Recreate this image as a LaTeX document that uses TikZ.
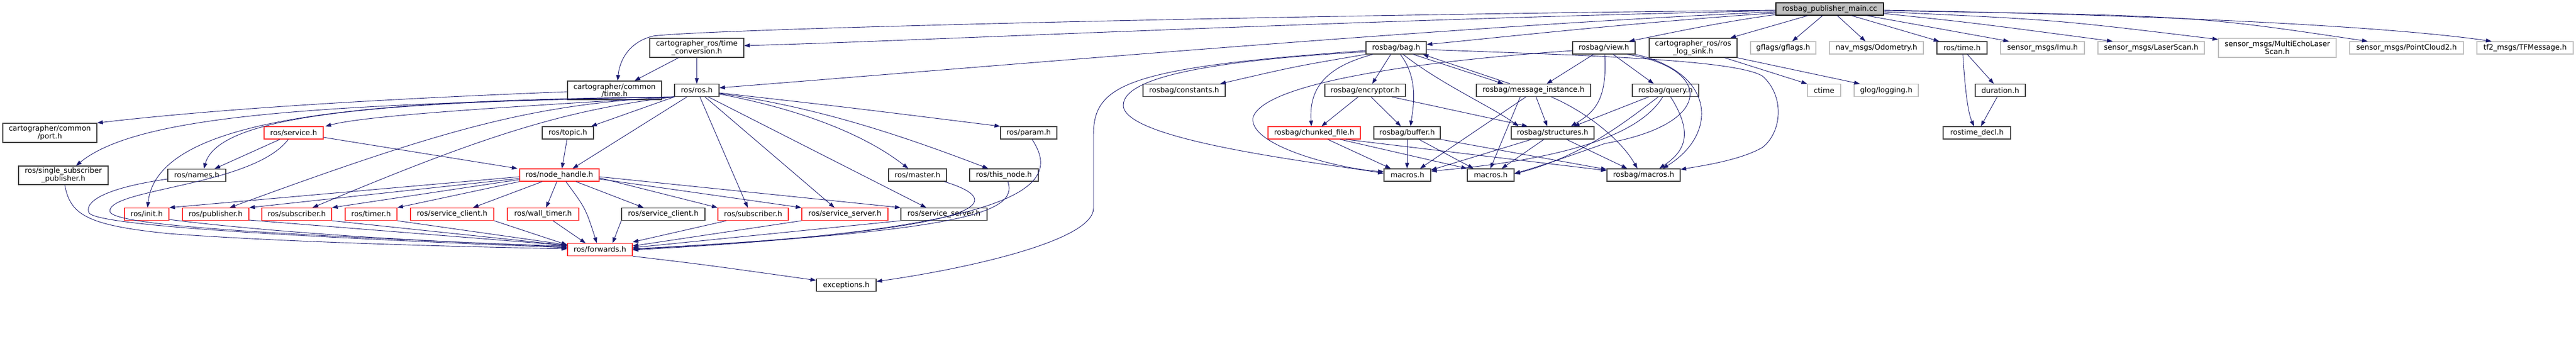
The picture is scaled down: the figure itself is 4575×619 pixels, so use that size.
\documentclass[tikz,border=0pt]{standalone}
\usepackage{fontspec}
\setmainfont{DejaVu Sans}
\usetikzlibrary{arrows.meta}
\definecolor{edgec}{HTML}{191970}
\definecolor{nb}{HTML}{404040}
\definecolor{nr}{HTML}{FF3030}
\definecolor{ng}{HTML}{BFBFBF}
\begin{document}
\begin{tikzpicture}[x=1pt,y=-1pt,
 nd/.style={draw=nb, line width=1.3pt, fill=white, inner sep=0pt, font=\fontsize{13}{12}\selectfont, align=center, minimum height=22pt},
 rd/.style={nd, draw=nr},
 gd/.style={nd, draw=ng},
 e/.style={draw=edgec, line width=0.9pt, -{Triangle[length=10pt,width=7pt]}}]
\useasboundingbox[fill=white] (0,0) rectangle (4575,619);
% nodes
\node[nd, fill=ng, draw=black, minimum width=191pt] (main) at (3249.5,16) {rosbag\_publisher\_main.cc};
\node[nd, minimum width=167pt, minimum height=34pt] (port) at (88.5,236) {cartographer/common\\/port.h};
\node[nd, minimum width=159pt, minimum height=33pt] (single) at (112.5,311.5) {ros/single\_subscriber\\\_publisher.h};
\node[nd, minimum width=103pt] (names) at (349.5,311.5) {ros/names.h};
\node[rd, minimum width=79pt] (init) at (260.5,380.5) {ros/init.h};
\node[rd, minimum width=118pt] (publisher) at (383,380.5) {ros/publisher.h};
\node[rd, minimum width=105pt] (service) at (521.5,236) {ros/service.h};
\node[rd, minimum width=124pt] (subA) at (527,380.5) {ros/subscriber.h};
\node[rd, minimum width=92pt] (timer) at (659,380.5) {ros/timer.h};
\node[rd, minimum width=148pt] (svcclA) at (803,380.5) {ros/service\_client.h};
\node[nd, minimum width=167pt, minimum height=33pt] (cctime) at (1091.5,160.5) {cartographer/common\\/time.h};
\node[nd, minimum width=91pt] (topic) at (1008.5,236) {ros/topic.h};
\node[rd, minimum width=141pt] (nodehandle) at (993.5,311) {ros/node\_handle.h};
\node[rd, minimum width=127pt] (walltimer) at (964.5,380.5) {ros/wall\_timer.h};
\node[nd, minimum width=148pt] (svcclB) at (1178,380.5) {ros/service\_client.h};
\node[rd, minimum width=115pt] (forwards) at (1065.5,443.5) {ros/forwards.h};
\node[nd, minimum width=167pt, minimum height=34pt] (tconv) at (1237.5,85) {cartographer\_ros/time\\\_conversion.h};
\node[nd, minimum width=79pt] (rosros) at (1237.5,160.5) {ros/ros.h};
\node[rd, minimum width=125pt] (subB) at (1337.5,380.5) {ros/subscriber.h};
\node[rd, minimum width=153pt] (svcsrvA) at (1500.5,380.5) {ros/service\_server.h};
\node[nd, minimum width=106pt] (exceptions) at (1503,506.5) {exceptions.h};
\node[nd, minimum width=100pt] (param) at (1827,236) {ros/param.h};
\node[nd, minimum width=103pt] (master) at (1629.5,311) {ros/master.h};
\node[nd, minimum width=122pt] (thisnode) at (1783,311) {ros/this\_node.h};
\node[nd, minimum width=153pt] (svcsrvB) at (1676.5,380.5) {ros/service\_server.h};
\node[nd, minimum width=146pt] (constants) at (2103,160.5) {rosbag/constants.h};
\node[rd, minimum width=164pt] (chunked) at (2334,236) {rosbag/chunked\_file.h};
\node[nd, minimum width=107pt] (bag) at (2479.5,85) {rosbag/bag.h};
\node[nd, minimum width=143pt] (encryptor) at (2424.5,160.5) {rosbag/encryptor.h};
\node[nd, minimum width=118pt] (buffer) at (2499,236) {rosbag/buffer.h};
\node[nd, minimum width=83pt] (macrosA) at (2499.5,311) {macros.h};
\node[nd, minimum width=83pt] (macrosB) at (2647.5,311) {macros.h};
\node[nd, minimum width=203pt] (msginst) at (2723.5,160.5) {rosbag/message\_instance.h};
\node[nd, minimum width=111pt] (view) at (2848.5,85) {rosbag/view.h};
\node[nd, minimum width=156pt, minimum height=34pt] (logsink) at (3007,85) {cartographer\_ros/ros\\\_log\_sink.h};
\node[nd, minimum width=118pt] (query) at (2958,160.5) {rosbag/query.h};
\node[nd, minimum width=147pt] (structures) at (2757.5,236) {rosbag/structures.h};
\node[nd, minimum width=130pt] (rbmacros) at (2919,311) {rosbag/macros.h};
\node[gd, minimum width=116pt] (gflags) at (3167,85) {gflags/gflags.h};
\node[gd, minimum width=167pt] (odom) at (3332.5,85) {nav\_msgs/Odometry.h};
\node[gd, minimum width=59pt] (ctime) at (3239.5,160.5) {ctime};
\node[gd, minimum width=114pt] (glog) at (3350,160.5) {glog/logging.h};
\node[nd, minimum width=89pt] (rostime) at (3484.5,85) {ros/time.h};
\node[gd, minimum width=149pt] (imu) at (3627.5,85) {sensor\_msgs/Imu.h};
\node[gd, minimum width=189pt] (laser) at (3820.5,85) {sensor\_msgs/LaserScan.h};
\node[nd, minimum width=89pt] (duration) at (3552.5,160.5) {duration.h};
\node[nd, minimum width=120pt] (rostimedecl) at (3511,236) {rostime\_decl.h};
\node[gd, minimum width=209pt, minimum height=34pt] (multiecho) at (4044.5,85) {sensor\_msgs/MultiEchoLaser\\Scan.h};
\node[gd, minimum width=202pt] (pc2) at (4274,85) {sensor\_msgs/PointCloud2.h};
\node[gd, minimum width=171pt] (tf2) at (4484.5,85) {tf2\_msgs/TFMessage.h};
% main edges
\draw[e] (main.west |- 0,18) .. controls (2200,28) and (1250,52) .. (1160,64) .. controls (1115,75) and (1100,110) .. (cctime.north -| 1097,0);
\draw[e] (main.west |- 0,19) .. controls (2400,35) and (1600,74) .. (tconv.east |- 0,81);
\draw[e] (main.west |- 0,21) .. controls (2600,45) and (1800,115) .. (rosros.east |- 0,156);
\draw[e] (main.west |- 0,23) .. controls (2900,40) and (2650,68) .. (bag.east |- 0,79);
\draw[e] (main.west |- 0,26) .. controls (3050,40) and (2950,62) .. (view.north -| 2893,0);
\draw[e] (main.south -| 3211,0) -- (logsink.north -| 3073,0);
\draw[e] (main.south -| 3237,0) -- (gflags.north -| 3183,0);
\draw[e] (main.south -| 3263,0) -- (odom.north -| 3313,0);
\draw[e] (main.south -| 3288,0) -- (rostime.north -| 3444,0);
\draw[e] (main.south -| 3315,0) -- (imu.north -| 3568,0);
\draw[e] (main.east |- 0,24) .. controls (3500,40) .. (laser.north -| 3752,0);
\draw[e] (main.east |- 0,21) .. controls (3650,35) .. (multiecho.west |- 0,70);
\draw[e] (main.east |- 0,19) .. controls (3900,28) .. (pc2.north -| 4205,0);
\draw[e] (main.east |- 0,18) .. controls (4000,30) and (4300,55) .. (tf2.north -| 4425,0);
% logsink, time
\draw[e] (logsink.south -| 3063,0) -- (ctime.north west);
\draw[e] (logsink.south east) -- (glog.north -| 3303,0);
\draw[e] (rostime.south -| 3494,0) -- (duration.north -| 3541,0);
\draw[e] (rostime.south -| 3486,0) .. controls (3490,160) and (3495,200) .. (rostimedecl.north -| 3506,0);
\draw[e] (duration.south -| 3547,0) -- (rostimedecl.north -| 3518,0);
% cartographer
\draw[e] (tconv.south -| 1205,0) -- (cctime.north -| 1127,0);
\draw[e] (tconv.south) -- (rosros.north);
\draw[e] (cctime.west |- 0,163) .. controls (700,175) and (400,192) .. (port.north east);
% ros/ros.h
\draw[e] (rosros.south west) .. controls (600,185) and (250,200) .. (single.north -| 135,0);
\draw[e] (rosros.south west) .. controls (700,180) and (390,200) .. (names.north -| 362,0);
\draw[e] (rosros.south west) .. controls (650,178) and (280,205) .. (init.north -| 262,0);
\draw[e] (rosros.south west) .. controls (900,190) and (650,205) .. (service.north -| 578,0);
\draw[e] (rosros.south west) .. controls (950,185) and (800,225) .. (publisher.north -| 408,0);
\draw[e] (rosros.south west) .. controls (1000,195) and (850,245) .. (subA.north -| 555,0);
\draw[e] (rosros.south west) -- (topic.north -| 1050,0);
\draw[e] (rosros.south -| 1220,0) -- (nodehandle.north -| 1017,0);
\draw[e] (rosros.south -| 1243,0) -- (subB.north -| 1328,0);
\draw[e] (rosros.south -| 1252,0) -- (svcsrvA.north -| 1482,0);
\draw[e] (rosros.south -| 1258,0) -- (svcsrvB.north -| 1645,0);
\draw[e] (rosros.east |- 0,167) .. controls (1450,200) and (1550,250) .. (master.north -| 1613,0);
\draw[e] (rosros.east |- 0,166) .. controls (1450,190) and (1600,240) .. (thisnode.north -| 1755,0);
\draw[e] (rosros.east |- 0,165) .. controls (1500,190) .. (param.north west);
% service
\draw[e] (service.south -| 497,0) -- (names.north -| 381,0);
\draw[e] (service.east |- 0,244) -- (nodehandle.north -| 919,0);
\draw[e] (service.south -| 512,0) .. controls (450,330) and (195,335) .. (195,375) .. controls (195,405) and (600,420) .. (forwards.west |- 0,439);
% to forwards from left
\draw[e] (names.west |- 0,318) .. controls (180,335) and (150,360) .. (158,378) .. controls (170,400) and (500,420) .. (forwards.west |- 0,440);
\draw[e] (single.south -| 115,0) .. controls (125,380) and (150,400) .. (300,415) .. controls (500,430) and (800,438) .. (forwards.west |- 0,442);
\draw[e] (init.east |- 0,390) .. controls (500,415) and (800,432) .. (forwards.west |- 0,437);
\draw[e] (publisher.east |- 0,391) -- (forwards.west |- 0,436);
\draw[e] (subA.south east) -- (forwards.west |- 0,436);
\draw[e] (timer.south east) -- (forwards.west |- 0,435);
\draw[e] (svcclA.south east) -- (forwards.west |- 0,435);
% node_handle
\draw[e] (nodehandle.west |- 0,314) -- (init.north east);
\draw[e] (nodehandle.west |- 0,317) -- (publisher.north east);
\draw[e] (nodehandle.west |- 0,319) -- (subA.north east);
\draw[e] (nodehandle.south west) -- (timer.north east);
\draw[e] (nodehandle.south -| 963,0) -- (svcclA.north -| 840,0);
\draw[e] (nodehandle.south -| 989,0) -- (walltimer.north -| 970,0);
\draw[e] (nodehandle.south -| 1005,0) .. controls (1040,370) .. (forwards.north -| 1060,0);
\draw[e] (nodehandle.south -| 1023,0) -- (svcclB.north -| 1143,0);
\draw[e] (nodehandle.east |- 0,316) -- (subB.north west);
\draw[e] (nodehandle.east |- 0,318) -- (svcsrvA.north west);
\draw[e] (nodehandle.east |- 0,314) -- (svcsrvB.north west);
\draw[e] (topic.south -| 1007,0) -- (nodehandle.north -| 998,0);
% level 5 to forwards
\draw[e] (walltimer.south -| 982,0) -- (forwards.north -| 1040,0);
\draw[e] (svcclB.south west) -- (forwards.north -| 1088,0);
\draw[e] (subB.south -| 1290,0) -- (forwards.east |- 0,430);
\draw[e] (svcsrvA.south west) -- (forwards.east |- 0,437);
\draw[e] (svcsrvB.south west) -- (forwards.east |- 0,440);
\draw[e] (master.south -| 1677,0) .. controls (1800,360) and (1750,410) .. (forwards.east |- 0,442);
\draw[e] (thisnode.south -| 1790,0) .. controls (1810,380) and (1700,410) .. (forwards.east |- 0,443);
\draw[e] (param.south -| 1833,0) .. controls (1880,320) and (1860,405) .. (forwards.east |- 0,444);
\draw[e] (forwards.south east) .. controls (1250,470) .. (exceptions.west |- 0,498);
\draw[e] (bag.west |- 0,90) .. controls (2000,120) and (1942,150) .. (1942,240) -- (1942,370) .. controls (1942,430) and (1700,480) .. (exceptions.east |- 0,500);
% rosbag cluster
\draw[e] (bag.south west) .. controls (2300,118) .. (constants.north -| 2167,0);
\draw[e] (bag.west |- 0,92) .. controls (2200,105) and (1995,130) .. (1995,187) .. controls (1995,250) and (2350,290) .. (macrosA.west |- 0,308);
\draw[e] (bag.south -| 2470,0) -- (encryptor.north -| 2437,0);
\draw[e] (bag.south -| 2438,0) .. controls (2350,120) and (2325,160) .. (chunked.north -| 2329,0);
\draw[e] (bag.south -| 2487,0) .. controls (2520,140) and (2510,190) .. (buffer.north -| 2505,0);
\draw[e] (bag.south -| 2492,0) .. controls (2560,150) and (2650,190) .. (structures.north -| 2697,0);
\draw[e] (bag.south -| 2510,0) -- (msginst.north -| 2670,0);
\draw[e] (msginst.north -| 2682,0) -- (bag.south -| 2527,0);
\draw[e] (bag.east |- 0,88) .. controls (2800,98) and (3080,105) .. (3130,135) .. controls (3170,170) and (3165,235) .. (3130,262) .. controls (3090,285) and (3020,295) .. (rbmacros.east |- 0,301);
\draw[e] (encryptor.south -| 2412,0) -- (chunked.north -| 2347,0);
\draw[e] (encryptor.south -| 2435,0) -- (buffer.north -| 2488,0);
\draw[e] (encryptor.south -| 2472,0) -- (structures.north -| 2713,0);
\draw[e] (chunked.south -| 2358,0) -- (macrosA.north -| 2470,0);
\draw[e] (chunked.south -| 2380,0) -- (macrosB.north west);
\draw[e] (chunked.south -| 2390,0) -- (rbmacros.west |- 0,303);
\draw[e] (buffer.south -| 2499,0) -- (macrosA.north -| 2499,0);
\draw[e] (buffer.south -| 2520,0) -- (macrosB.north -| 2617,0);
\draw[e] (buffer.south east) -- (rbmacros.west |- 0,301);
\draw[e] (msginst.south -| 2728,0) -- (structures.north -| 2748,0);
\draw[e] (msginst.south -| 2710,0) -- (macrosA.north -| 2522,0);
\draw[e] (msginst.south -| 2700,0) -- (macrosB.north -| 2647,0);
\draw[e] (msginst.south -| 2755,0) .. controls (2820,200) and (2880,250) .. (rbmacros.north -| 2908,0);
\draw[e] (structures.south -| 2720,0) -- (macrosA.east |- 0,302);
\draw[e] (structures.south -| 2742,0) -- (macrosB.north -| 2667,0);
\draw[e] (structures.south -| 2782,0) -- (rbmacros.north -| 2890,0);
\draw[e] (view.south -| 2830,0) -- (msginst.north -| 2747,0);
\draw[e] (view.south -| 2850,0) .. controls (2855,180) and (2830,200) .. (structures.north -| 2790,0);
\draw[e] (view.south -| 2865,0) -- (query.north -| 2937,0);
\draw[e] (view.south east) .. controls (3050,130) and (3050,240) .. (rbmacros.north -| 2953,0);
\draw[e] (view.south -| 2890,0) .. controls (3040,120) and (3050,220) .. (2850,255) .. controls (2780,280) and (2720,300) .. (macrosB.east |- 0,308);
\draw[e] (view.west |- 0,90) .. controls (2500,110) and (2240,150) .. (2225,210) .. controls (2220,260) and (2380,300) .. (macrosA.west |- 0,305);
\draw[e] (query.south -| 2928,0) -- (structures.north -| 2795,0);
\draw[e] (query.south -| 2945,0) .. controls (2870,230) and (2800,280) .. (macrosB.east |- 0,309);
\draw[e] (query.south -| 2953,0) .. controls (2900,260) and (2700,290) .. (macrosA.east |- 0,304);
\draw[e] (query.south -| 2967,0) .. controls (3010,240) and (2990,270) .. (rbmacros.north -| 2947,0);
\end{tikzpicture}
\end{document}
